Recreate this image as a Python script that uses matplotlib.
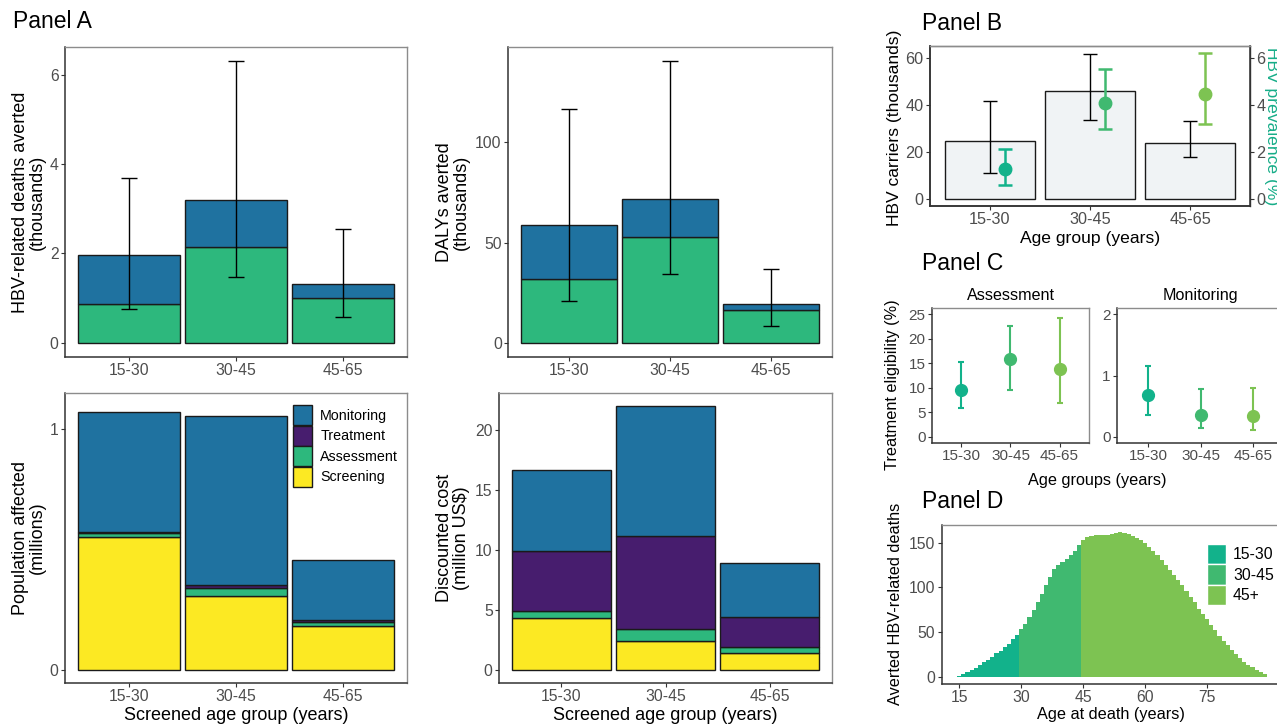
import numpy as np
import matplotlib
matplotlib.use('Agg')
import matplotlib.pyplot as plt
from matplotlib.patches import Patch

plt.rcParams['font.family'] = ['Liberation Sans', 'DejaVu Sans']

# ---- data ----
groups = ['15-30', '30-45', '45-65']

# Panel A: deaths averted (thousands)
deaths_assess = [0.88, 2.15, 1.01]
deaths_monitor = [1.09, 1.04, 0.30]
deaths_lo = [0.76, 1.48, 0.57]
deaths_hi = [3.69, 6.30, 2.55]

# Panel A: DALYs averted (thousands)
dalys_assess = [31.8, 53.0, 16.2]
dalys_monitor = [27.2, 18.8, 3.0]
dalys_lo = [21.0, 34.3, 8.5]
dalys_hi = [116.7, 140.6, 37.0]

# Panel A: population affected (millions)
pop_screen = [0.553, 0.307, 0.183]
pop_assess = [0.015, 0.033, 0.017]
pop_treat = [0.007, 0.011, 0.005]
pop_monitor = [0.496, 0.704, 0.250]

# Panel A: discounted cost (million US$)
cost_screen = [4.30, 2.38, 1.38]
cost_assess = [0.58, 1.00, 0.56]
cost_treat = [5.05, 7.77, 2.49]
cost_monitor = [6.71, 10.85, 4.47]

# Panel B
carriers = [24.4, 45.9, 23.9]
carriers_lo = [11.1, 33.6, 17.6]
carriers_hi = [41.6, 61.9, 33.2]
prev = [1.27, 4.07, 4.47]
prev_lo = [0.60, 2.97, 3.20]
prev_hi = [2.11, 5.51, 6.20]

# Panel C: treatment eligibility (%)
elig_assess = [9.6, 15.9, 13.9]
elig_assess_lo = [5.8, 9.6, 6.9]
elig_assess_hi = [15.2, 22.6, 24.2]
elig_monit = [0.68, 0.36, 0.34]
elig_monit_lo = [0.36, 0.14, 0.12]
elig_monit_hi = [1.15, 0.78, 0.79]

# Panel D: averted deaths by age at death
death_age_first = 15
deaths_by_age = [1, 3, 5, 8, 10, 13, 16, 19, 22, 26, 29, 33, 37, 42, 47,
                 53, 59, 67, 75, 84, 93, 102, 111, 120, 125, 128, 132, 136, 141, 147,
                 153, 156, 157.5, 158.5, 158.5, 158, 158.5, 159.5, 160.5, 161.5,
                 160.5, 159, 157.5, 155.5, 152.5, 149, 145, 141, 136, 130.5,
                 125, 119, 114, 108, 102, 96, 89, 83, 76, 70,
                 64, 58, 52, 46, 40, 35, 30, 25, 21, 17,
                 13.5, 10.5, 8, 5.5, 3.5]
d_groups = ['15-30', '30-45', '45+']

# ---- colours ----
c_monitor = '#1f72a0'
c_treat = '#471d6e'
c_assess = '#2db87d'
c_screen = '#fce923'
age_cols = ['#12b28b', '#40b970', '#7dc352']
tick_grey = '#4d4d4d'

W, H = 1277, 725
fig = plt.figure(figsize=(W / 100, H / 100), dpi=100)


def axes_px(l, t, r, b):
    return fig.add_axes([l / W, 1 - b / H, (r - l) / W, (b - t) / H])


def ftext(x, y, s, **kw):
    kw.setdefault('ha', 'center')
    kw.setdefault('va', 'center')
    return fig.text(x / W, 1 - y / H, s, **kw)


def style(ax, size=11.3):
    for s in ['left', 'bottom']:
        ax.spines[s].set_color('#333333')
        ax.spines[s].set_linewidth(1.1)
    for s in ['top', 'right']:
        ax.spines[s].set_color('#8c8c8c')
        ax.spines[s].set_linewidth(1.0)
    ax.tick_params(direction='out', length=3, width=0.8, color='#333333',
                   labelcolor=tick_grey, labelsize=size, pad=1.5)


x = np.arange(1, 4)


def stacked(ax, parts, cols, width=0.95):
    bottom = np.zeros(3)
    for vals, c in zip(parts, cols):
        ax.bar(x, vals, width, bottom=bottom, color=c, edgecolor='#1a1a1a',
               linewidth=1.0, zorder=2)
        bottom = bottom + np.array(vals)
    return bottom


def errs(ax, mid, lo, hi, cap):
    mid = np.array(mid)
    ax.errorbar(x, mid, yerr=[mid - np.array(lo), np.array(hi) - mid],
                fmt='none', ecolor='black', elinewidth=1.0, capsize=cap,
                capthick=1.0, zorder=3)


# ---- Panel A ----
ftext(13, 22, 'Panel A', ha='left', size=16.5)

ax = axes_px(65, 47, 407, 357)
tot = stacked(ax, [deaths_assess, deaths_monitor], [c_assess, c_monitor])
errs(ax, tot, deaths_lo, deaths_hi, 6)
ax.set_xlim(0.4, 3.6)
ax.set_ylim(-0.315, 6.615)
ax.set_yticks([0, 2, 4, 6])
ax.set_xticks(x, groups)
style(ax)
ftext(29, 202, 'HBV-related deaths averted\n(thousands)', rotation=90,
      size=13, linespacing=1.05)

ax = axes_px(508, 47, 832, 357)
tot = stacked(ax, [dalys_assess, dalys_monitor], [c_assess, c_monitor])
errs(ax, tot, dalys_lo, dalys_hi, 5.5)
ax.set_xlim(0.4, 3.6)
ax.set_ylim(-7.03, 147.6)
ax.set_yticks([0, 50, 100])
ax.set_xticks(x, groups)
style(ax)
ftext(453, 202, 'DALYs averted\n(thousands)', rotation=90, size=13,
      linespacing=1.05)

ax = axes_px(65, 393, 407, 683)
stacked(ax, [pop_screen, pop_assess, pop_treat, pop_monitor],
        [c_screen, c_assess, c_treat, c_monitor])
ax.set_xlim(0.4, 3.6)
ax.set_ylim(-0.056, 1.152)
ax.set_yticks([0, 1])
ax.set_xticks(x, groups)
style(ax)
handles = [Patch(facecolor=c, edgecolor='#1a1a1a', linewidth=1.0, label=l)
           for c, l in zip([c_monitor, c_treat, c_assess, c_screen],
                           ['Monitoring', 'Treatment', 'Assessment', 'Screening'])]
ax.legend(handles=handles, loc='upper left',
          bbox_to_anchor=(293 / W, 1 - 405 / H), bbox_transform=fig.transFigure,
          frameon=False, fontsize=10.3, handlelength=1.35, handleheight=1.8,
          labelspacing=0.02, handletextpad=0.55, borderpad=0, borderaxespad=0)
ftext(29, 538, 'Population affected\n(millions)', rotation=90, size=13,
      linespacing=1.05)
ftext(236, 715, 'Screened age group (years)', size=13)

ax = axes_px(499, 393, 832, 683)
stacked(ax, [cost_screen, cost_assess, cost_treat, cost_monitor],
        [c_screen, c_assess, c_treat, c_monitor])
ax.set_xlim(0.4, 3.6)
ax.set_ylim(-1.1, 23.1)
ax.set_yticks([0, 5, 10, 15, 20])
ax.set_xticks(x, groups)
style(ax)
ftext(453, 538, 'Discounted cost\n(million US$)', rotation=90, size=13,
      linespacing=1.05)
ftext(665, 715, 'Screened age group (years)', size=13)

# ---- Panel B ----
ftext(922, 24, 'Panel B', ha='left', size=16.5)
ax = axes_px(930, 46, 1250, 206)
ax.bar(x, carriers, 0.9, color='#f0f3f5', edgecolor='#1a1a1a', linewidth=1.0,
       zorder=2)
errs(ax, carriers, carriers_lo, carriers_hi, 5)
ax.set_xlim(0.4, 3.6)
ax.set_ylim(-3.1, 65.1)
ax.set_yticks([0, 20, 40, 60])
ax.set_xticks(x, groups)
style(ax, 11.7)
ax.spines['right'].set_color('#333333')
ax2 = ax.twinx()
for i in range(3):
    ax2.errorbar(x[i] + 0.15, prev[i],
                 yerr=[[prev[i] - prev_lo[i]], [prev_hi[i] - prev[i]]],
                 fmt='o', color=age_cols[i], markersize=9, elinewidth=1.8,
                 capsize=5.2, capthick=1.8, zorder=4)
ax2.set_ylim(-0.31, 6.51)
ax2.set_yticks([0, 2, 4, 6])
style(ax2, 11.7)
ax2.spines['right'].set_color('#333333')
ax2.spines['right'].set_linewidth(1.1)
ftext(895, 128, 'HBV carriers (thousands)', rotation=90, size=12.6)
ftext(1272, 126, 'HBV prevalence (%)', rotation=-90, size=12.6,
      color='#16ad88')
ftext(1090, 238, 'Age group (years)', size=12.6)

# ---- Panel C ----
ftext(922, 264, 'Panel C', ha='left', size=16.5)
panels = [(932, 1089, elig_assess, elig_assess_lo, elig_assess_hi,
           (-1.25, 26.25), [0, 5, 10, 15, 20, 25], 'Assessment'),
          (1117, 1284, elig_monit, elig_monit_lo, elig_monit_hi,
           (-0.1, 2.1), [0, 1, 2], 'Monitoring')]
for l, r, mid, lo, hi, yl, yt, title in panels:
    ax = axes_px(l, 308, r, 443)
    for i in range(3):
        ax.errorbar(x[i], mid[i], yerr=[[mid[i] - lo[i]], [hi[i] - mid[i]]],
                    fmt='o', color=age_cols[i], markersize=8.5, elinewidth=1.5,
                    capsize=2, capthick=1.5)
    ax.set_xlim(0.4, 3.6)
    ax.set_ylim(*yl)
    ax.set_yticks(yt)
    ax.set_xticks(x, groups)
    style(ax, 11)
    ax.set_title(title, size=11.6, pad=6)
ftext(892, 385, 'Treatment eligibility (%)', rotation=90, size=11.7)
ftext(1097, 481, 'Age groups (years)', size=11.7)

# ---- Panel D ----
ftext(922, 502, 'Panel D', ha='left', size=16.5)
ax = axes_px(941.7, 525, 1282.5, 684)
ages = np.arange(death_age_first, death_age_first + len(deaths_by_age))
vals = np.array(deaths_by_age)
bounds = [(15, 30), (30, 45), (45, 200)]
for (a0, a1), c, lab in zip(bounds, age_cols, d_groups):
    m = (ages >= a0) & (ages < a1)
    ax.bar(ages[m], vals[m], 1.0, color=c, linewidth=0, label=lab)
ax.set_xlim(10.75, 93.25)
ax.set_ylim(-8.1, 169.6)
ax.set_xticks([15, 30, 45, 60, 75])
ax.set_yticks([0, 50, 100, 150])
style(ax, 11.3)
hd = [Patch(facecolor=c, edgecolor='white', linewidth=1.0, label=l)
      for c, l in zip(age_cols, d_groups)]
ax.legend(handles=hd, loc='upper left',
          bbox_to_anchor=(1207 / W, 1 - 544 / H), bbox_transform=fig.transFigure,
          frameon=False, fontsize=11.3, handlelength=1.2, handleheight=1.6,
          labelspacing=0.02, handletextpad=0.45, borderpad=0, borderaxespad=0)
ftext(895, 604, 'Averted HBV-related deaths', rotation=90, size=11.7)
ftext(1111, 715, 'Age at death (years)', size=11.7)

fig.savefig('out.png', dpi=100)
